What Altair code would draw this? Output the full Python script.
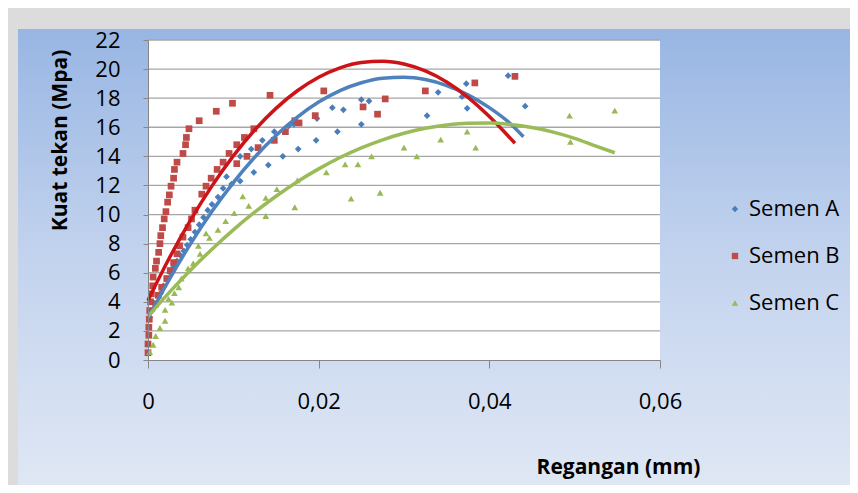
import altair as alt
import pandas as pd

series_names = ["Semen A", "Semen B", "Semen C"]

a_x = [0.0002, 0.0005, 0.0008, 0.0012, 0.0015, 0.0018, 0.0022, 0.0026, 0.0030, 0.0034,
       0.0038, 0.0042, 0.0046, 0.0050, 0.0055, 0.0060, 0.0065, 0.0070, 0.0075, 0.0082,
       0.0088, 0.0092, 0.0098, 0.0108, 0.0108, 0.0121, 0.0124, 0.0134, 0.0141, 0.0148,
       0.0158, 0.0165, 0.0171, 0.0176, 0.0197, 0.0198, 0.0216, 0.0222, 0.0229, 0.0250,
       0.0250, 0.0259, 0.0327, 0.0340, 0.0368, 0.0373, 0.0374, 0.0422, 0.0442]
a_y = [2.9, 3.4, 3.9, 4.4, 4.6, 5.1, 5.6, 6.0, 6.4, 6.8,
       7.2, 7.5, 7.9, 8.3, 8.8, 9.3, 9.8, 10.3, 10.7, 11.2,
       11.8, 12.6, 12.1, 12.3, 14.0, 14.5, 12.9, 15.1, 13.4, 15.7,
       14.0, 16.1, 16.2, 14.5, 15.1, 16.6, 17.35, 15.7, 17.2, 17.9,
       16.2, 17.8, 16.8, 18.4, 18.1, 19.0, 17.3, 19.55, 17.45]

b_x = [0.0000, 0.0000, 0.0001, 0.0001, 0.00015, 0.0002, 0.0003, 0.0004, 0.00055, 0.0006,
       0.00086, 0.0010, 0.00125, 0.0014, 0.0015, 0.0017, 0.0019, 0.0021, 0.0023, 0.0025,
       0.0027, 0.0030, 0.0031, 0.0034, 0.0041, 0.0044, 0.0045, 0.0048, 0.0060, 0.0080,
       0.0099, 0.0143,
       0.0009, 0.0012, 0.0016, 0.0022, 0.0026, 0.0030, 0.0034, 0.0037, 0.0041, 0.0047,
       0.0051, 0.0055, 0.0063, 0.0068, 0.0074, 0.0081, 0.0088, 0.0095, 0.0104, 0.0104,
       0.0113, 0.0116, 0.0124, 0.0129, 0.0148, 0.0161, 0.0172, 0.0177, 0.0196, 0.0206,
       0.0252, 0.0269, 0.0278, 0.0325, 0.0383, 0.0430]
b_y = [0.5, 1.1, 1.7, 2.25, 2.8, 3.4, 4.0, 4.55, 5.1, 5.7,
       6.3, 6.8, 7.4, 8.0, 8.55, 9.1, 9.7, 10.2, 10.85, 11.35,
       11.95, 12.5, 13.1, 13.6, 14.2, 14.8, 15.3, 15.9, 16.45, 17.1,
       17.65, 18.2,
       3.85, 4.45, 5.0, 5.6, 6.15, 6.7, 7.3, 7.85, 8.45, 9.1,
       9.7, 10.3, 11.4, 11.95, 12.5, 13.1, 13.6, 14.2, 13.5, 14.8,
       15.3, 14.0, 15.9, 14.6, 15.1, 15.7, 16.45, 16.3, 16.8, 18.5,
       17.4, 16.9, 17.95, 18.5, 19.05, 19.5]

c_x = [0.0002, 0.0006, 0.0009, 0.0014, 0.0020, 0.0020, 0.0024, 0.0028, 0.0031, 0.0036,
       0.0039, 0.0047, 0.0053, 0.0061, 0.0059, 0.0068, 0.0072, 0.0082, 0.0091, 0.0101,
       0.0111, 0.0118, 0.0138, 0.0138, 0.0151, 0.0172, 0.0175, 0.0209, 0.0231, 0.0238,
       0.0246, 0.0262, 0.0272, 0.0300, 0.0315, 0.0343, 0.0374, 0.0384, 0.0494, 0.0495,
       0.0547]
c_y = [0.55, 1.05, 1.65, 2.2, 2.7, 3.45, 4.2, 3.95, 4.6, 5.0,
       5.6, 6.3, 6.65, 7.3, 7.85, 8.7, 8.4, 8.95, 9.55, 10.1,
       11.25, 10.6, 9.9, 11.15, 11.75, 10.5, 12.35, 12.9, 13.45, 11.1,
       13.45, 14.0, 11.5, 14.6, 14.0, 15.15, 15.7, 14.6, 16.8, 15.0,
       17.15]

# Trend curves (Excel polynomial trendlines)
ta_x = [0, 0.0025, 0.005, 0.0075, 0.01, 0.0125, 0.015, 0.0175, 0.02, 0.0225,
        0.025, 0.0275, 0.03, 0.0325, 0.035, 0.0375, 0.04, 0.0425, 0.044]
ta_y = [2.85, 5.54, 8.00, 10.22, 12.20, 13.94, 15.44, 16.70, 17.73, 18.52,
        19.06, 19.37, 19.44, 19.28, 18.87, 18.23, 17.35, 16.23, 15.35]
tb_x = [0, 0.0025, 0.005, 0.0075, 0.01, 0.0125, 0.015, 0.0175, 0.02, 0.0225,
        0.025, 0.0275, 0.03, 0.0325, 0.035, 0.0375, 0.04, 0.043]
tb_y = [4.10, 7.01, 9.63, 11.97, 14.03, 15.81, 17.30, 18.51, 19.44, 20.09,
        20.46, 20.54, 20.35, 19.87, 19.11, 18.06, 16.74, 14.9]
tc_x = [0, 0.0025, 0.005, 0.0075, 0.01, 0.0125, 0.015, 0.0175, 0.02, 0.0225,
        0.025, 0.0275, 0.03, 0.0325, 0.035, 0.0375, 0.04, 0.0425, 0.045, 0.0475,
        0.05, 0.0525, 0.0547]
tc_y = [3.00, 4.65, 6.19, 7.62, 8.95, 10.16, 11.26, 12.26, 13.14, 13.92,
        14.59, 15.14, 15.59, 15.93, 16.16, 16.28, 16.29, 16.19, 15.98, 15.67,
        15.24, 14.70, 14.25]

y_ticks = [0, 2, 4, 6, 8, 10, 12, 14, 16, 18, 20, 22]
x_ticks = [0, 0.02, 0.04, 0.06]

point_colors = ["#4A7EBB", "#BE4B48", "#98B954"]
line_colors = ["#4F81BD", "#CC1418", "#9BBB59"]
shapes = ["diamond", "square", "triangle-up"]

rows = []
for name, xs_, ys_ in zip(series_names, [a_x, b_x, c_x], [a_y, b_y, c_y]):
    for xv, yv in zip(xs_, ys_):
        rows.append({"series": name, "x": xv, "y": yv})
df = pd.DataFrame(rows)

trows = []
for name, xs_, ys_ in zip(series_names, [ta_x, tb_x, tc_x], [ta_y, tb_y, tc_y]):
    for xv, yv in zip(xs_, ys_):
        trows.append({"series": name, "x": xv, "y": yv})
tdf = pd.DataFrame(trows)

W, H = 512, 320
FONT = "Open Sans"

xscale = alt.Scale(domain=[0, 0.06], nice=False, zero=True)
yscale = alt.Scale(domain=[0, 22], nice=False)

xaxis = alt.Axis(
    values=x_ticks,
    labelExpr="datum.value == 0 ? '0' : replace(format(datum.value, '.2f'), '.', ',')",
    grid=False, domainColor="#868686", tickColor="#868686", tickSize=8,
    labelPadding=23, labelFontSize=22, labelFont=FONT, labelColor="black",
    labelFlush=False, labelOverlap=False,
    title="Regangan (mm)", titleFontSize=21, titleFont=FONT, titleFontWeight="bold",
    titleColor="black", titleX=470, titleY=107, titleBaseline="middle", titleAlign="center",
    zindex=1,
)
yaxis = alt.Axis(
    values=y_ticks, format="d",
    grid=False, domainColor="#868686", tickColor="#868686", tickSize=5,
    labelPadding=23, labelFontSize=22, labelFont=FONT, labelColor="black",
    labelFlush=False, labelOverlap=False,
    title="Kuat tekan (Mpa)", titleFontSize=21, titleFont=FONT, titleFontWeight="bold",
    titleColor="black", titleX=-88, titleY=100, titleAngle=270, titleBaseline="middle",
    titleAlign="center", zindex=1,
)

one = pd.DataFrame({"k": [0]})
gradient = alt.LinearGradient(
    gradient="linear",
    stops=[alt.GradientStop(color="#98B6E3", offset=0),
           alt.GradientStop(color="#C3D3EE", offset=0.5),
           alt.GradientStop(color="#DFE7F4", offset=1)],
    x1=0, x2=0, y1=0, y2=1,
)
bg = alt.Chart(one).mark_rect(color=gradient).encode(
    x=alt.value(-130), x2=alt.value(702), y=alt.value(-11), y2=alt.value(445)
)
plot_bg = alt.Chart(one).mark_rect(color="white").encode(
    x=alt.value(0), x2=alt.value(W), y=alt.value(0), y2=alt.value(H)
)
grid = alt.Chart(pd.DataFrame({"v": y_ticks[1:]})).mark_rule(
    color="#A6A6A6", strokeWidth=1.3
).encode(y=alt.Y("v:Q", scale=yscale, axis=yaxis))

legend = alt.Legend(
    title=None, orient="none", legendX=576, legendY=158,
    labelFont=FONT, labelFontSize=22, labelColor="black",
    symbolSize=40, symbolStrokeWidth=0, rowPadding=25, labelOffset=3,
)
pts = alt.Chart(df).mark_point(filled=True, size=45, opacity=1).encode(
    x=alt.X("x:Q", scale=xscale, axis=xaxis),
    y=alt.Y("y:Q", scale=yscale, axis=yaxis),
    color=alt.Color("series:N", scale=alt.Scale(domain=series_names, range=point_colors), legend=legend),
    shape=alt.Shape("series:N", scale=alt.Scale(domain=series_names, range=shapes), legend=legend),
)


def trend(name, color):
    return alt.Chart(tdf).transform_filter(
        alt.datum.series == name
    ).mark_line(color=color, strokeWidth=3.5, interpolate="monotone").encode(
        x=alt.X("x:Q", scale=xscale, axis=xaxis),
        y=alt.Y("y:Q", scale=yscale, axis=yaxis),
    )


lines = [trend(n, c) for n, c in zip(series_names, line_colors)]

chart = alt.layer(bg, plot_bg, grid, pts, *lines).properties(
    width=W, height=H,
    padding={"left": 10, "top": 21, "right": 0, "bottom": 0},
    background="#DCDCDC",
).configure_view(stroke=None)

chart.save("out.html", embed_options={"renderer": "svg", "actions": False})
